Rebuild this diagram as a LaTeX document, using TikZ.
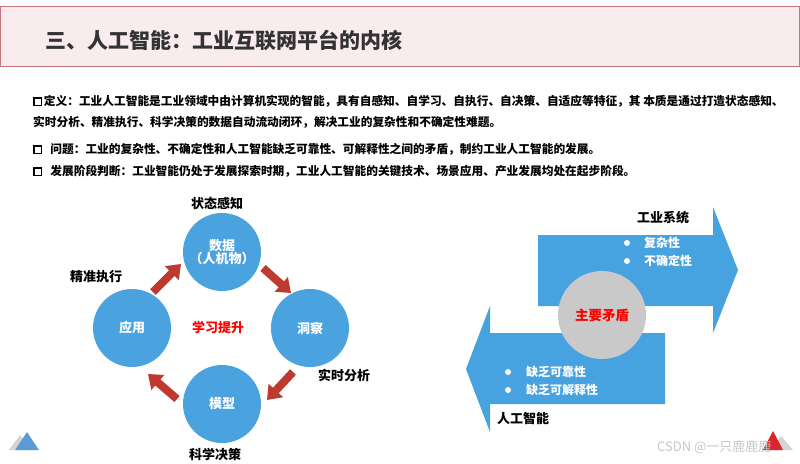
\documentclass[tikz,border=0pt]{standalone}
\usepackage{fontspec}
\setmainfont{Noto Sans CJK SC}
\usetikzlibrary{arrows.meta}
\definecolor{hdrfill}{HTML}{F8ECEE}
\definecolor{hdrline}{HTML}{C4767B}
\definecolor{cblue}{HTML}{4AA3DF}
\definecolor{ablue}{HTML}{47A2E0}
\definecolor{ared}{HTML}{BE3A2F}
\definecolor{cgray}{HTML}{C9C9C9}
\definecolor{titlecol}{HTML}{333333}
\definecolor{wmark}{HTML}{C8C8C8}
\definecolor{tgray}{HTML}{D4D4D4}
\definecolor{tblue}{HTML}{5B9BD5}
\definecolor{tred}{HTML}{D9262E}
\definecolor{pred}{HTML}{FF0000}
\newcommand\sqbox{\raisebox{0.2pt}{\fboxsep=0pt\fboxrule=1.3pt\fbox{\rule{0pt}{6.2pt}\hspace{6.6pt}}}}
\begin{document}
\begin{tikzpicture}[x=1pt,y=-1pt,
  para/.style={anchor=west,inner sep=0,font=\bfseries\fontsize{11.7}{12}\selectfont},
  circ/.style={circle,fill=cblue,minimum size=78pt,inner sep=0,text=white,align=center,font=\bfseries\fontsize{13}{14}\selectfont},
  lbl/.style={inner sep=0,font=\bfseries\fontsize{13}{14}\selectfont},
  wtxt/.style={anchor=west,inner sep=0,text=white,font=\bfseries\fontsize{12}{13}\selectfont},
  ra/.style={draw=ared,line width=8pt,-{Triangle[width=19pt,length=13pt]}},
  bigarrow/.style={fill=ablue}
]
\useasboundingbox (0,0) rectangle (800,463);
\fill[white] (0,0) rectangle (800,463);
% header
\draw[hdrline,fill=hdrfill,line width=1pt] (0.5,6) rectangle (799,66);
\node[anchor=west,inner sep=0,text=titlecol,font=\bfseries\fontsize{21}{22}\selectfont] (title) at (45,40) {三、人工智能：工业互联网平台的内核};
% paragraphs
\node[para] (p1) at (33,101) {\sqbox\hspace{1.5pt}定义：工业人工智能是工业领域中由计算机实现的智能，具有自感知、自学习、自执行、自决策、自适应等特征，其 本质是通过打造状态感知、};
\node[para] (p2) at (33,122) {实时分析、精准执行、科学决策的数据自动流动闭环，解决工业的复杂性和不确定性难题。};
\node[para] (p3) at (33,149) {\sqbox\hspace{8pt}问题：工业的复杂性、不确定性和人工智能缺乏可靠性、可解释性之间的矛盾，制约工业人工智能的发展。};
\node[para] (p4) at (33,171) {\sqbox\hspace{8pt}发展阶段判断：工业智能仍处于发展探索时期，工业人工智能的关键技术、场景应用、产业发展均处在起步阶段。};
% cycle
\node[circ] (T) at (222,252) {数据\\[-1pt]（人机物）};
\node[circ] (L) at (132,328) {应用};
\node[circ] (R) at (310,328) {洞察};
\node[circ] (B) at (222,404) {模型};
\node[lbl,text=pred] (ctr) at (218,327) {学习提升};
\node[lbl] (l1) at (217,203) {状态感知};
\node[lbl] (l2) at (96,277) {精准执行};
\node[lbl] (l3) at (344,375) {实时分析};
\node[lbl] (l4) at (215,455) {科学决策};
\coordinate (a1s) at (153,292); \coordinate (a1e) at (181,264);
\coordinate (a2s) at (263,268); \coordinate (a2e) at (291,293);
\coordinate (a3s) at (293,372); \coordinate (a3e) at (267,400);
\coordinate (a4s) at (177,399); \coordinate (a4e) at (148,374);
\draw[ra] (a1s) -- (a1e);
\draw[ra] (a2s) -- (a2e);
\draw[ra] (a3s) -- (a3e);
\draw[ra] (a4s) -- (a4e);
% block arrows
\fill[bigarrow] (538,235) -- (713,235) -- (713,207) -- (738,270) -- (713,333) -- (713,306) -- (538,306) -- cycle;
\fill[bigarrow] (665,333) -- (490,333) -- (490,306) -- (466,369) -- (490,432) -- (490,404) -- (665,404) -- cycle;
\node[circle,fill=cgray,minimum size=88pt,inner sep=0,text=pred,font=\bfseries\fontsize{13.5}{14}\selectfont] (M) at (602,315) {主要矛盾};
\node[lbl,anchor=west] (sys) at (637,218) {工业系统};
\node[lbl,anchor=west] (ai) at (497,418) {人工智能};
\fill[white] (627,243) circle (3);
\fill[white] (627,261) circle (3);
\fill[white] (508,372) circle (3);
\fill[white] (508,390) circle (3);
\node[wtxt] (b1) at (644,243) {复杂性};
\node[wtxt] (b2) at (644,261) {不确定性};
\node[wtxt] (b3) at (526,372) {缺乏可靠性};
\node[wtxt] (b4) at (526,390) {缺乏可解释性};
% corner triangles
\fill[tgray] (9,450) -- (20,435) -- (31,450) -- cycle;
\fill[tblue] (15,450) -- (27,432) -- (39,450) -- cycle;
\fill[tgray] (771,450) -- (781,436) -- (793,450) -- cycle;
\fill[tred] (763,450) -- (773,431) -- (783,450) -- cycle;
% watermark
\node[anchor=west,inner sep=0,text=wmark,font=\fontsize{13}{14}\selectfont] (wm) at (657,447) {CSDN @一只鹿鹿鹿};
\end{tikzpicture}
\end{document}
